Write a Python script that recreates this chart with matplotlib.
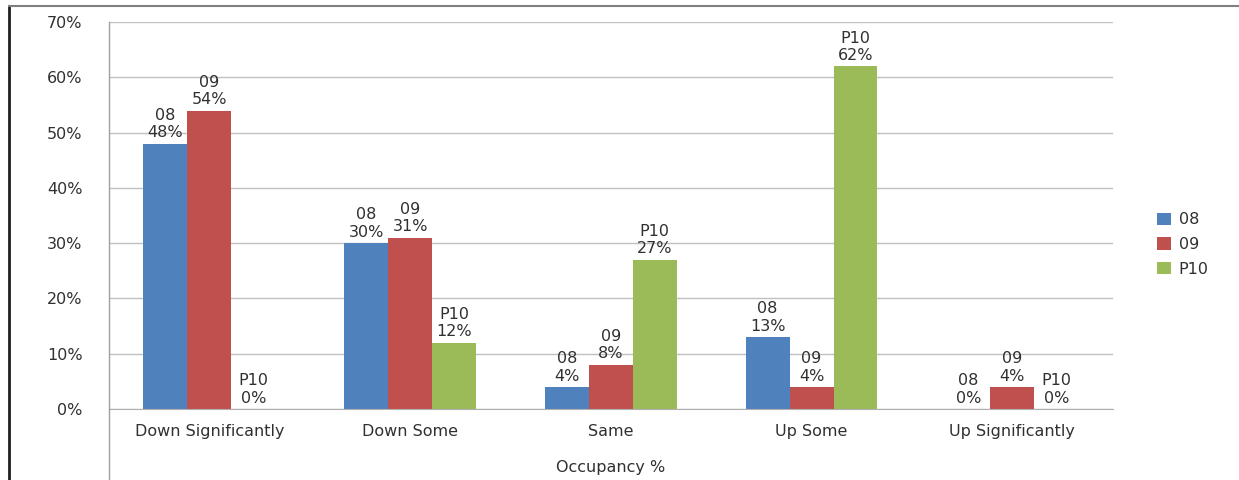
import numpy as np
import matplotlib.pyplot as plt
from matplotlib.lines import Line2D

categories = ["Down Significantly", "Down Some", "Same", "Up Some", "Up Significantly"]
series = ["08", "09", "P10"]
v08 = [48, 30, 4, 13, 0]
v09 = [54, 31, 8, 4, 4]
p10 = [0, 12, 27, 62, 0]
yticks = [0, 10, 20, 30, 40, 50, 60, 70]

colors = ["#4f81bd", "#c0504d", "#9bbb59"]

plt.rcParams['font.family'] = 'DejaVu Sans'
plt.rcParams['font.size'] = 11.5

fig = plt.figure(figsize=(12.39, 4.8), dpi=100)
ax = fig.add_axes([0.088, 0.148, 0.81, 0.806])

x = np.arange(len(categories))
w = 0.219
for i, (name, vals) in enumerate(zip(series, [v08, v09, p10])):
    pos = x + (i - 1) * w
    ax.bar(pos, vals, w, color=colors[i], label=name, zorder=2)
    for px, v in zip(pos, vals):
        ax.text(px, v + 0.6, name + "\n" + str(v) + "%", ha='center', va='bottom',
                color='#303030', linespacing=1.2, zorder=3)

ax.set_xlim(-0.5, len(categories) - 0.5)
ax.set_ylim(0, 70)
ax.set_yticks(yticks)
ax.set_yticklabels([str(t) + "%" for t in yticks], color='#303030')
ax.set_xticks(x)
ax.set_xticklabels(categories, color='#303030')
ax.tick_params(axis='both', length=0)
ax.tick_params(axis='y', pad=19)
ax.tick_params(axis='x', pad=11)
ax.grid(True, axis='y', color='#c0c0c0', lw=1, zorder=0)
for s in ["top", "right", "left"]:
    ax.spines[s].set_visible(False)
ax.spines["bottom"].set_color('#b0b0b0')
ax.set_xlabel("Occupancy %", color='#303030', labelpad=15)

leg = ax.legend(loc='center left', bbox_to_anchor=(1.03, 0.425), frameon=False,
                handlelength=0.85, handleheight=0.8, handletextpad=0.5, labelspacing=0.6)
for t in leg.get_texts():
    t.set_color('#303030')

# vertical axis line running down past the category labels, and the outer frame
fig.add_artist(Line2D([0.088, 0.088], [0.0, 0.954], color='#a0a0a0', lw=1))
fig.add_artist(Line2D([0.0075, 0.0075], [0.0, 0.988], color='#202020', lw=2))
fig.add_artist(Line2D([0.0075, 1.0], [0.988, 0.988], color='#808080', lw=1.5))

fig.savefig("out.png", dpi=100)
